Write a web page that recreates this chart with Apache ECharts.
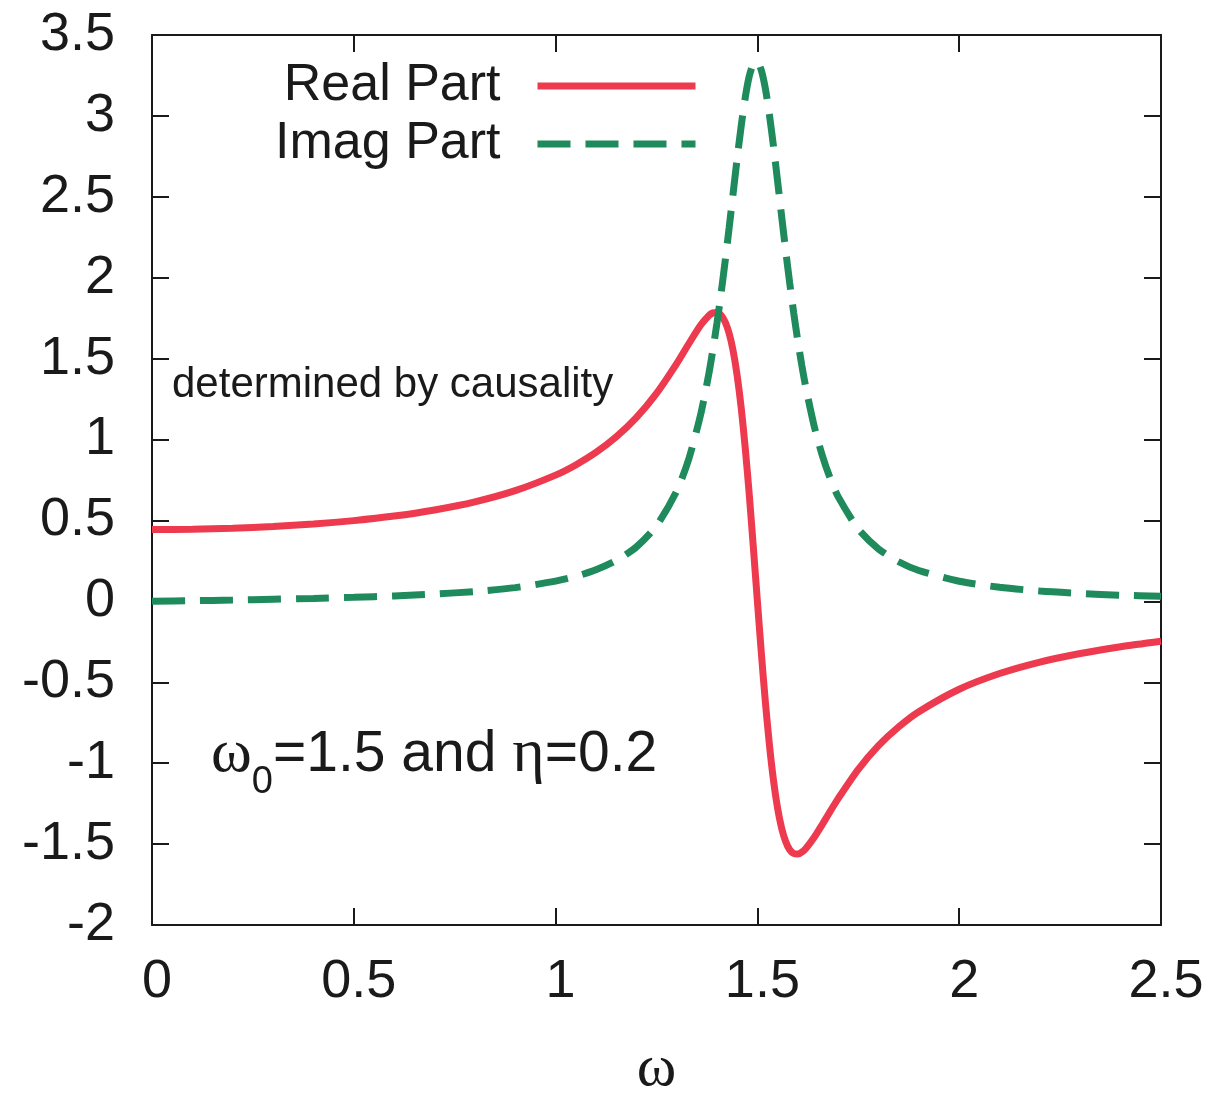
<!DOCTYPE html>
<html>
<head>
<meta charset="utf-8">
<script src="https://cdn.jsdelivr.net/npm/echarts@6/dist/echarts.min.js"></script>
<style>
  html, body { margin: 0; padding: 0; background: #fff; }
  #chart { width: 1211px; height: 1096px; }
</style>
</head>
<body>
<div id="chart"></div>
<script>
// frequency grid (omega) and the two parts of the response
var omega = [0, 0.1, 0.2, 0.3, 0.4, 0.5, 0.6, 0.7, 0.8, 0.9, 1.0, 1.05, 1.1, 1.15, 1.2, 1.25, 1.3,
  1.33, 1.36, 1.38, 1.39, 1.40, 1.41, 1.42, 1.43, 1.44, 1.45, 1.46, 1.47, 1.48, 1.49, 1.50,
  1.51, 1.52, 1.53, 1.54, 1.55, 1.56, 1.57, 1.58, 1.59, 1.60, 1.61, 1.62, 1.64, 1.66, 1.68,
  1.70, 1.75, 1.80, 1.85, 1.90, 2.0, 2.1, 2.2, 2.3, 2.4, 2.5];
var realPart = [0.444, 0.446, 0.452, 0.463, 0.478, 0.499, 0.527, 0.565, 0.615, 0.684, 0.780,
  0.843, 0.920, 1.016, 1.135, 1.285, 1.469, 1.592, 1.709, 1.767, 1.783, 1.785, 1.768, 1.727,
  1.656, 1.547, 1.393, 1.193, 0.944, 0.654, 0.333, 0, -0.327, -0.629, -0.892, -1.109, -1.278,
  -1.401, -1.484, -1.535, -1.558, -1.562, -1.550, -1.527, -1.461, -1.382, -1.299, -1.219,
  -1.038, -0.892, -0.776, -0.682, -0.543, -0.446, -0.375, -0.322, -0.280, -0.246];
var imagPart = [0, 0.004, 0.008, 0.013, 0.018, 0.025, 0.033, 0.045, 0.061, 0.085, 0.125,
  0.154, 0.195, 0.252, 0.336, 0.467, 0.682, 0.880, 1.161, 1.411, 1.559, 1.723, 1.904, 2.100,
  2.309, 2.525, 2.740, 2.941, 3.115, 3.247, 3.322, 3.333, 3.279, 3.165, 3.003, 2.809, 2.597,
  2.381, 2.169, 1.968, 1.782, 1.612, 1.459, 1.322, 1.090, 0.908, 0.763, 0.647, 0.447, 0.324,
  0.245, 0.191, 0.124, 0.087, 0.064, 0.049, 0.038, 0.031];
var seriesNames = ['Real Part', 'Imag Part'];

function pairs(ys) {
  return omega.map(function (w, i) { return [w, ys[i]]; });
}

var font = '"Liberation Sans", Arial, Helvetica, sans-serif';
var serif = '"Liberation Serif", "Times New Roman", serif';
var ink = '#1a1a1a';
var red = '#ee3a4e';
var green = '#1f8a5c';
var dash = [33, 15];
var frame = { show: true, onZero: false, lineStyle: { color: ink, width: 2 } };
var ticks = { show: true, inside: true, length: 17, lineStyle: { color: ink, width: 2 } };

function legendFor(name, top, color, type) {
  return {
    data: [name], right: 507, top: top, align: 'right',
    itemWidth: 158, itemHeight: 20, selectedMode: false,
    itemStyle: { opacity: 0 },
    lineStyle: { color: color, width: 7, type: type },
    textStyle: { color: ink, fontSize: 52, fontFamily: font, padding: [0, 32, 0, 0] }
  };
}

var chart = echarts.init(document.getElementById('chart'));
chart.setOption({
  backgroundColor: '#ffffff',
  animation: false,
  grid: { left: 152, right: 50, top: 35, bottom: 171, containLabel: false, outerBoundsMode: 'none' },
  xAxis: [{
    type: 'value', min: 0, max: 2.5, interval: 0.5,
    axisLine: frame, axisTick: ticks, splitLine: { show: false },
    axisLabel: { color: ink, fontSize: 54, fontFamily: font, margin: 30, padding: [0, 0, 0, 10] },
    name: 'ω', nameLocation: 'middle', nameGap: 114,
    nameTextStyle: { color: ink, fontSize: 60, fontFamily: serif }
  }, {
    type: 'value', position: 'top', min: 0, max: 2.5, interval: 0.5,
    axisLine: frame, axisTick: ticks, splitLine: { show: false }, axisLabel: { show: false }
  }],
  yAxis: [{
    type: 'value', min: -2, max: 3.5, interval: 0.5,
    axisLine: frame, axisTick: ticks, splitLine: { show: false },
    axisLabel: { color: ink, fontSize: 54, fontFamily: font, margin: 37 }
  }, {
    type: 'value', position: 'right', min: -2, max: 3.5, interval: 0.5,
    axisLine: frame, axisTick: ticks, splitLine: { show: false }, axisLabel: { show: false }
  }],
  legend: [
    legendFor(seriesNames[0], 55, red, 'solid'),
    legendFor(seriesNames[1], 113, green, dash)
  ],
  graphic: [{
    type: 'text', left: 172, top: 364,
    style: { text: 'determined by causality', fill: ink, font: '42px ' + font }
  }, {
    type: 'text', left: 211, top: 724,
    style: {
      text: '{w|ω}{s|0}{t|=1.5 and }{w|η}{t|=0.2}',
      rich: {
        w: { fill: ink, fontSize: 62, fontFamily: serif, lineHeight: 66, verticalAlign: 'middle' },
        s: { fill: ink, fontSize: 38, fontFamily: font, lineHeight: 66, verticalAlign: 'bottom', padding: [0, 0, -14, 0] },
        t: { fill: ink, fontSize: 57, fontFamily: font, lineHeight: 66, verticalAlign: 'middle' }
      }
    }
  }],
  series: [{
    name: seriesNames[0], type: 'line', data: pairs(realPart),
    showSymbol: false, symbol: 'none', smooth: 0.25,
    lineStyle: { color: red, width: 7 }, itemStyle: { color: red }
  }, {
    name: seriesNames[1], type: 'line', data: pairs(imagPart),
    showSymbol: false, symbol: 'none', smooth: 0.25,
    lineStyle: { color: green, width: 7, type: dash }, itemStyle: { color: green }
  }]
});
</script>
</body>
</html>
